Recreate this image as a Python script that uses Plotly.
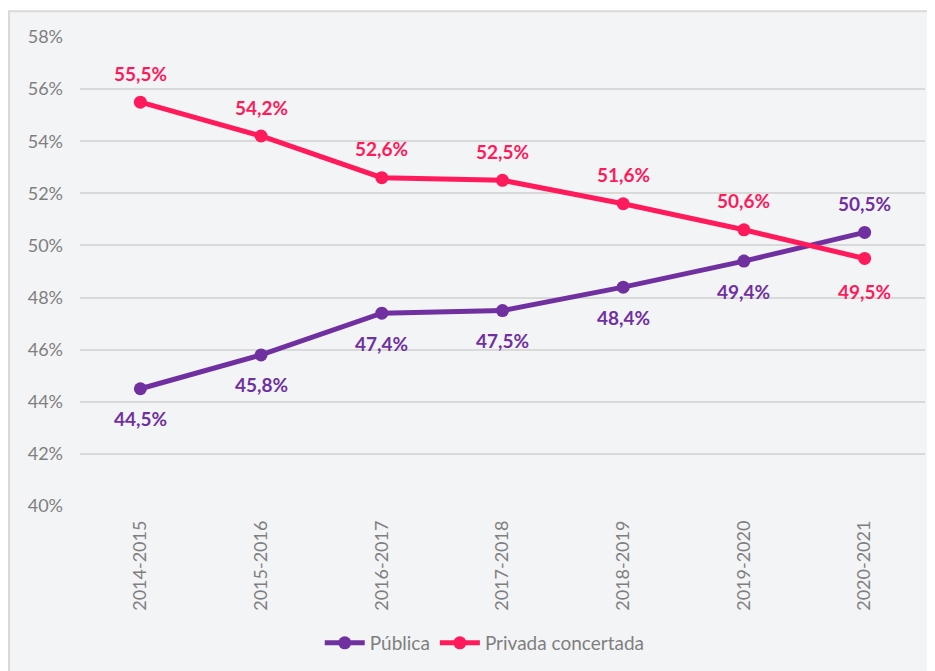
import plotly.graph_objects as go

categories = ["2014-2015", "2015-2016", "2016-2017", "2017-2018", "2018-2019", "2019-2020", "2020-2021"]
publica = [44.5, 45.8, 47.4, 47.5, 48.4, 49.4, 50.5]
privada = [55.5, 54.2, 52.6, 52.5, 51.6, 50.6, 49.5]
y_ticks = [40, 42, 44, 46, 48, 50, 52, 54, 56, 58]

PURPLE = "#7030A0"
PINK = "#FF1A5B"
FONT = "Lato"

fig = go.Figure()
fig.add_trace(go.Scatter(x=categories, y=[v / 100 for v in publica], name="Pública",
                         mode="lines+markers", line=dict(color=PURPLE, width=5),
                         marker=dict(size=13, color=PURPLE)))
fig.add_trace(go.Scatter(x=categories, y=[v / 100 for v in privada], name="Privada concertada",
                         mode="lines+markers", line=dict(color=PINK, width=5),
                         marker=dict(size=13, color=PINK)))

def fmt(v):
    return "<b>" + f"{v:.1f}".replace(".", ",") + "%</b>"

annotations = []
for i, c in enumerate(categories):
    pub_above = publica[i] > privada[i]
    annotations.append(dict(x=c, y=publica[i] / 100, text=fmt(publica[i]), showarrow=False,
                            yshift=29 if pub_above else -30,
                            font=dict(family=FONT, size=19, color=PURPLE)))
    annotations.append(dict(x=c, y=privada[i] / 100, text=fmt(privada[i]), showarrow=False,
                            yshift=-33 if pub_above else 29,
                            font=dict(family=FONT, size=19, color=PINK)))

fig.update_layout(
    width=935, height=671,
    margin=dict(l=72, r=18, t=29, b=173),
    paper_bgcolor="white",
    plot_bgcolor="#F3F4F6",
    font=dict(family=FONT, color="#7F7F7F", size=16),
    showlegend=True,
    legend=dict(orientation="h", x=0.479, xanchor="center", y=-0.292, yanchor="middle",
                font=dict(family=FONT, size=19, color="#7F7F7F"), bgcolor="rgba(0,0,0,0)",
                itemwidth=40),
    annotations=annotations,
    shapes=[dict(type="rect", xref="paper", yref="paper", x0=-0.084, x1=1.03, y0=-0.4, y1=1.055,
                 line=dict(color="#D9D9D9", width=2), fillcolor="#F3F4F6", layer="below")],
)
fig.update_xaxes(type="category", range=[-0.5, 6.5], showgrid=False, showline=False, zeroline=False,
                 tickangle=-90, tickfont=dict(family=FONT, size=18, color="#7F7F7F"),
                 ticklabelstandoff=10)
fig.update_yaxes(range=[0.40, 0.58], tickvals=[v / 100 for v in y_ticks],
                 ticktext=[f"{v}%" for v in y_ticks], showgrid=True, gridcolor="#D9D9D9", gridwidth=1.5,
                 zeroline=False, showline=False, tickfont=dict(family=FONT, size=18, color="#7F7F7F"),
                 ticklabelstandoff=16)

fig.write_html("out.html")
